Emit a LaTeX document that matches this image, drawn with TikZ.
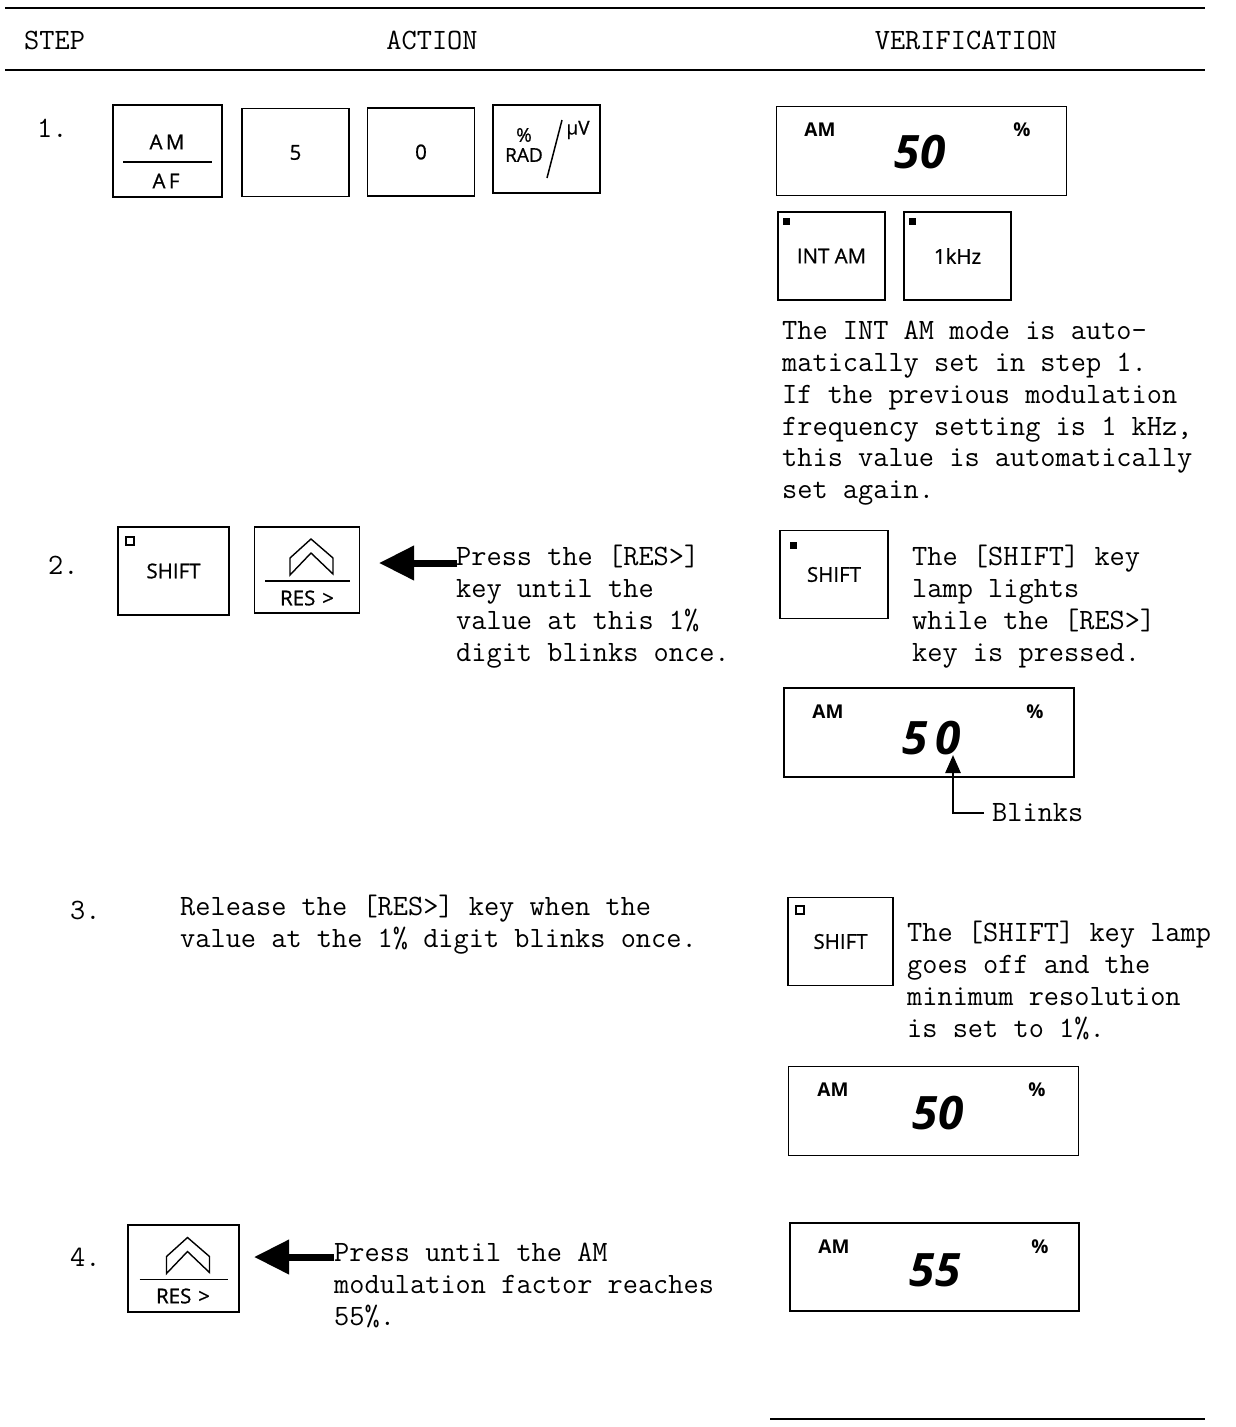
\documentclass[tikz,border=0pt]{standalone}
\usepackage{fontspec}
\newfontfamily\keyfont[FakeBold=0.8]{Open Sans}
\newfontfamily\dispfont{Open Sans}
\usetikzlibrary{arrows.meta,positioning}

\begin{document}
\begin{tikzpicture}[x=1pt,y=-1pt,
      every node/.style={inner sep=0pt},
      rule/.style={line width=1.8pt},
      manual/.style={font=\fontsize{29.5}{31.8}\selectfont\ttfamily, align=left},
      keybox/.style={draw, line width=1.5pt, minimum width=107pt,
        minimum height=88pt, font=\keyfont\fontsize{20.5}{22}\selectfont},
      keylabel/.style={font=\keyfont\fontsize{20.5}{22}\selectfont},
      smalllabel/.style={font=\keyfont\fontsize{19}{20}\selectfont},
      disp/.style={draw, line width=1.5pt, minimum width=290pt,
        minimum height=89pt},
      dispam/.style={font=\dispfont\bfseries\fontsize{19}{21}\selectfont},
      dispval/.style={font=\dispfont\bfseries\itshape\fontsize{46}{50}\selectfont},
      lampon/.style={fill, minimum size=7pt},
      lampoff/.style={draw, line width=1.2pt, minimum size=8pt},
      chevron/.style={line width=1.4pt, line join=miter},
      bigarrow/.style={line width=7pt, -{Triangle[length=35pt,width=33pt]}},
      blinkarrow/.style={line width=2.6pt, -{Triangle[length=18pt,width=15pt]}}
    ]
    \useasboundingbox (0,0) rectangle (1235,1427);

    % table head
    \draw[rule] (5,8) -- (1205,8);
    \draw[rule] (5,70) -- (1205,70);
    \draw[rule] (770,1419) -- (1205,1419);
    \node[manual, anchor=west] (hstep) at (24,40) {STEP};
    \node[manual] (haction) at (432,40) {ACTION};
    \node[manual] (hverif) at (966,40) {VERIFICATION};

    % step 1
    \node[manual, anchor=west] (n1) at (37,128) {1.};
    \node[keybox, minimum width=109pt, minimum height=92pt] (amaf) at (167.5,151) {};
    \node[keylabel] (amlab) at (167,142) {A\,M};
    \node[keylabel] (aflab) at (166,181) {A\,F};
    \draw[line width=1.6pt] (123,162) -- (212,162);
    \node[keybox] (k5) at (295.5,152.5) {5};
    \node[keybox] (k0) at (421,152) {0};
    \node[keybox] (kunit) at (546.5,149) {};
    \node[smalllabel] (kpct) at (524,135) {\%};
    \node[smalllabel] (krad) at (524,155) {RAD};
    \node[smalllabel] (kuv) at (578,130) {µV};
    \draw[line width=1.5pt] (547,178) -- (562,120);

    \node[disp] (d1) at (921.5,151) {};
    \node[dispam] (d1am) at (820,130) {AM};
    \node[dispval] (d1val) at (920,152) {50};
    \node[dispam] (d1pct) at (1022,130) {\%};
    \node[keybox] (intam) at (831.5,256) {INT AM};
    \node[lampon] (intamlamp) at (786,221) {};
    \node[keybox] (khz) at (957.5,256) {1kHz};
    \node[lampon] (khzlamp) at (912,221) {};
    \node[manual, anchor=north west] (v1txt) at (782,321) {The INT AM mode is auto-\\
      matically set in step 1.\\If the previous modulation\\
      frequency setting is 1 kHz,\\this value is automatically\\set again.};

    % step 2
    \node[manual, anchor=west] (n2) at (48,565) {2.};
    \node[keybox, minimum width=111pt] (shift2) at (173.5,571) {SHIFT};
    \node[lampoff] (shift2lamp) at (130,541) {};
    \node[keybox, minimum width=105pt, minimum height=86pt] (res2) at (307,570) {};
    \begin{scope}[shift={(res2.center)}]
      \draw[chevron] (-17,5) -- (-17,-12) -- (4,-31) -- (26,-12) -- (26,4)
        -- (4,-17) -- cycle;
      \draw[line width=1.6pt] (-42,11) -- (43,11);
    \end{scope}
    \node[keylabel] (res2lab) at (307,598) {RES\,\,>};
    \node[manual, anchor=north west] (a2txt) at (456,545) {Press the [RES>]\\
      key until the\\value at this 1\%\\digit blinks once.};
    \coordinate (a2tail) at (457,563);
    \coordinate (a2tip) at (379,563);
    \draw[bigarrow] (a2tail) -- (a2tip);

    \node[keybox, minimum width=108pt] (vshift2) at (834,574.5) {SHIFT};
    \node[lampon] (vshift2lamp) at (793,545) {};
    \node[manual, anchor=north west] (v2txt) at (912,545) {The [SHIFT] key\\
      lamp lights\\while the [RES>]\\key is pressed.};
    \node[disp] (d2) at (929,732.5) {};
    \node[dispam] (d2am) at (828,712) {AM};
    \node[dispval] (d2val) at (932,738) {5\hspace{8pt}0};
    \node[dispam] (d2pct) at (1035,712) {\%};
    \coordinate (blinktip) at (953,755);
    \node[manual, anchor=west] (blinks) at (992,813) {Blinks};
    \draw[blinkarrow, shorten <=8pt] (blinks.west) -| (blinktip);

    % step 3
    \node[manual, anchor=west] (n3) at (70,910) {3.};
    \node[manual, anchor=north west] (a3txt) at (180,895) {Release the [RES>] key when the\\
      value at the 1\% digit blinks once.};
    \node[keybox, minimum width=105pt] (shift3) at (840.5,941.5) {SHIFT};
    \node[lampoff] (shift3lamp) at (800,910) {};
    \node[manual, anchor=north west] (v3txt) at (907,921) {The [SHIFT] key lamp\\
      goes off and the\\minimum resolution\\is set to 1\%.};
    \node[disp] (d3) at (933.5,1111) {};
    \node[dispam] (d3am) at (833,1090) {AM};
    \node[dispval] (d3val) at (938,1113) {50};
    \node[dispam] (d3pct) at (1037,1090) {\%};

    % step 4
    \node[manual, anchor=west] (n4) at (70,1257) {4.};
    \node[keybox, minimum width=111pt, minimum height=87pt] (res4) at (183.5,1268.5) {};
    \begin{scope}[shift={(res4.center)}]
      \draw[chevron] (-17,5) -- (-17,-12) -- (4,-31) -- (26,-12) -- (26,4)
        -- (4,-17) -- cycle;
      \draw[line width=1.6pt] (-44,11) -- (44,11);
    \end{scope}
    \node[keylabel] (res4lab) at (183,1296) {RES\,\,>};
    \node[manual, anchor=north west] (a4txt) at (334,1243) {Press until the AM\\
      modulation factor reaches\\55\%.};
    \coordinate (a4tail) at (334,1257);
    \coordinate (a4tip) at (254,1257);
    \draw[bigarrow] (a4tail) -- (a4tip);

    \node[disp, minimum width=289pt, minimum height=88pt] (d4) at (934.5,1267) {};
    \node[dispam] (d4am) at (834,1247) {AM};
    \node[dispval] (d4val) at (935,1270) {55};
    \node[dispam] (d4pct) at (1040,1247) {\%};
  \end{tikzpicture}
\end{document}
